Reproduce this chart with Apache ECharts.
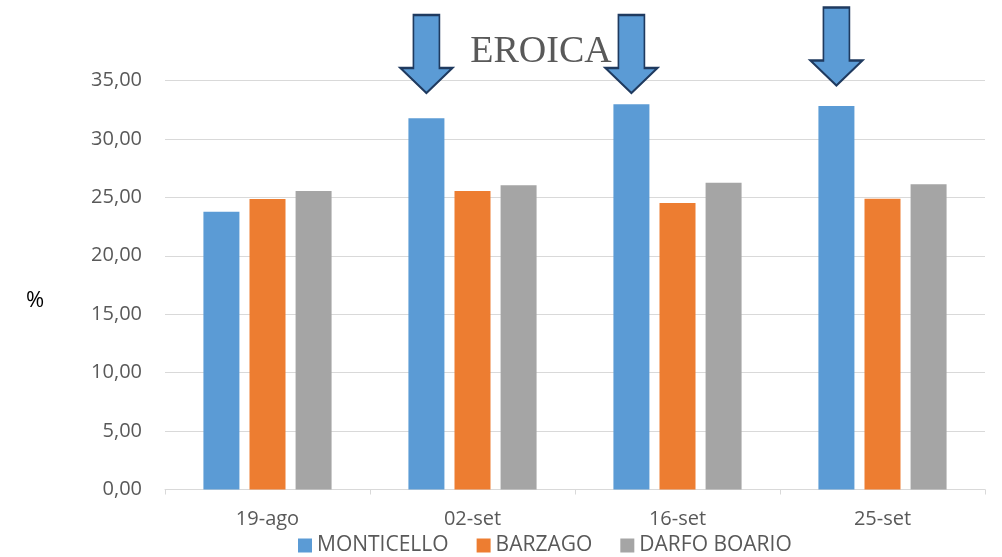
<!DOCTYPE html>
<html>
<head>
<meta charset="utf-8">
<script src="https://cdn.jsdelivr.net/npm/echarts@6/dist/echarts.min.js"></script>
<style>
  html, body { margin: 0; padding: 0; background: #fff; }
  #chart { width: 1002px; height: 557px; }
</style>
</head>
<body>
<div id="chart"></div>
<script>
// Sampling dates and percentage values per site
const categories = ['19-ago', '02-set', '16-set', '25-set'];
const monticello = [23.77, 31.76, 32.96, 32.82];
const barzago = [24.86, 25.54, 24.52, 24.88];
const darfoBoario = [25.54, 26.03, 26.25, 26.12];
const seriesNames = ['MONTICELLO', 'BARZAGO', 'DARFO BOARIO'];
// Dates flagged with a down arrow over the MONTICELLO bar
const flaggedDates = ['02-set', '16-set', '25-set'];

const textColor = '#595959';
const gridColor = '#d9d9d9';
const font = '"Open Sans", sans-serif';

// Down-arrow outline (shaft + head), scaled by symbolSize
const arrowPath = 'path://M13 0 L39 0 L39 53 L52 53 L26 78 L0 53 L13 53 Z';
const arrowLift = { '02-set': -26.5, '16-set': -26.5, '25-set': -34 };

const chart = echarts.init(document.getElementById('chart'), null, { renderer: 'canvas' });

chart.setOption({
  animation: false,
  color: ['#5b9bd5', '#ed7d31', '#a5a5a5'],
  textStyle: { fontFamily: font },
  grid: { left: 165, right: 17, top: 80.5, bottom: 67.5, containLabel: false },
  legend: {
    data: seriesNames,
    left: 298,
    top: 535,
    padding: 0,
    itemWidth: 14,
    itemHeight: 14,
    itemGap: 28,
    icon: 'rect',
    textStyle: { color: textColor, fontSize: 21, fontFamily: font }
  },
  xAxis: {
    type: 'category',
    data: categories,
    axisLine: { lineStyle: { color: gridColor, width: 1 } },
    axisTick: { show: true, length: 5, lineStyle: { color: gridColor } },
    axisLabel: { color: textColor, fontSize: 20, margin: 20, fontFamily: font }
  },
  yAxis: {
    type: 'value',
    min: 0,
    max: 35,
    interval: 5,
    axisLine: { show: false },
    axisTick: { show: false },
    splitLine: { lineStyle: { color: gridColor, width: 1 } },
    axisLabel: {
      color: textColor,
      fontSize: 20,
      margin: 23,
      fontFamily: font,
      formatter: v => v.toFixed(2).replace('.', ',')
    }
  },
  graphic: [
    {
      type: 'text',
      x: 541, y: 52,
      style: {
        text: 'EROICA',
        fill: textColor,
        font: '38px "Liberation Serif", "Times New Roman", serif',
        textAlign: 'center',
        textVerticalAlign: 'middle'
      },
      z: 10
    },
    {
      type: 'text',
      x: 35, y: 301,
      style: {
        text: '%',
        fill: '#000',
        font: '22px "Open Sans", sans-serif',
        textAlign: 'center',
        textVerticalAlign: 'middle'
      }
    }
  ],
  series: [
    {
      name: seriesNames[0],
      type: 'bar',
      data: monticello,
      barWidth: 36,
      barGap: '28%',
      markPoint: {
        symbol: arrowPath,
        symbolSize: [52, 78],
        itemStyle: { color: '#5b9bd5', borderColor: '#1f3a5f', borderWidth: 2 },
        label: { show: false },
        data: flaggedDates.map(d => ({ coord: [d, 35], symbolOffset: [0, arrowLift[d]] }))
      }
    },
    { name: seriesNames[1], type: 'bar', data: barzago, barWidth: 36, barGap: '28%' },
    { name: seriesNames[2], type: 'bar', data: darfoBoario, barWidth: 36, barGap: '28%' }
  ]
});
</script>
</body>
</html>
